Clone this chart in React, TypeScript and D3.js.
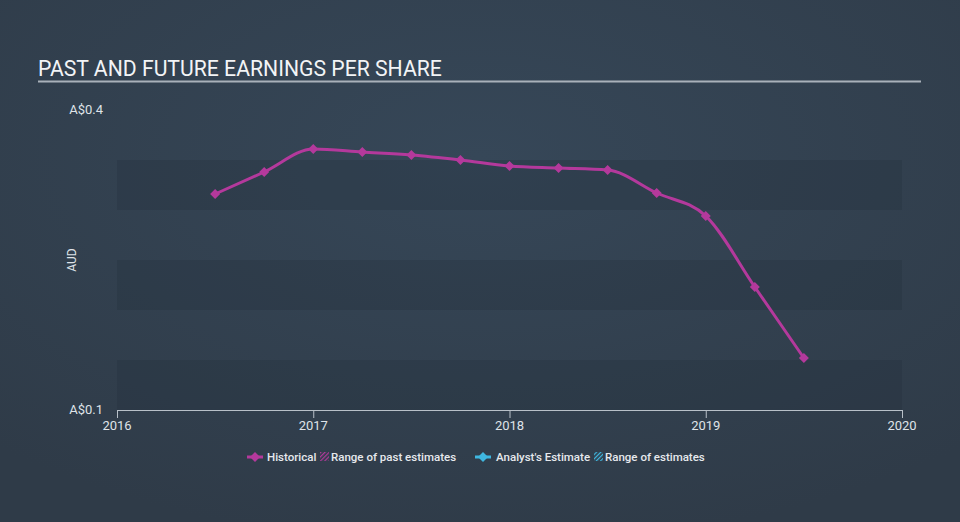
import React from "react";
import * as d3 from "d3";

const dates = [2016.5, 2016.75, 2017.0, 2017.25, 2017.5, 2017.75, 2018.0, 2018.25, 2018.5, 2018.75, 2019.0, 2019.25, 2019.5];
const eps = [0.316, 0.338, 0.361, 0.358, 0.355, 0.35, 0.344, 0.342, 0.34, 0.317, 0.294, 0.223, 0.152];
const xTicks = [2016, 2017, 2018, 2019, 2020];
const yTickLabels = [
  { v: 0.4, label: "A$0.4" },
  { v: 0.1, label: "A$0.1" },
];
const bands = [
  [0.1, 0.15],
  [0.2, 0.25],
  [0.3, 0.35],
];

const W = 960;
const H = 522;
const MAGENTA = "#b4399c";
const CYAN = "#3fb7e0";

export default function App() {
  const x = d3.scaleLinear().domain([2016, 2020]).range([117, 902]);
  const y = d3.scaleLinear().domain([0.1, 0.4]).range([410, 110]);
  const line = d3
    .line<number>()
    .x((_, i) => x(dates[i]))
    .y((d) => y(d))
    .curve(d3.curveMonotoneX);
  const diamond = (cx: number, cy: number, r: number) =>
    `M${cx},${cy - r}L${cx + r},${cy}L${cx},${cy + r}L${cx - r},${cy}Z`;

  return (
    <svg
      width={W}
      height={H}
      style={{ position: "absolute", left: 0, top: 0, display: "block" }}
      fontFamily="Roboto, sans-serif"
    >
      <defs>
        <radialGradient id="bg" cx="0.5" cy="0.3" r="0.75">
          <stop offset="0" stopColor="#364758" />
          <stop offset="1" stopColor="#2f3b48" />
        </radialGradient>
        <pattern id="hatchM" width="3" height="3" patternUnits="userSpaceOnUse" patternTransform="rotate(45)">
          <rect width="1.2" height="3" fill={MAGENTA} />
        </pattern>
        <pattern id="hatchC" width="3" height="3" patternUnits="userSpaceOnUse" patternTransform="rotate(45)">
          <rect width="1.2" height="3" fill={CYAN} />
        </pattern>
      </defs>
      <rect width={W} height={H} fill="url(#bg)" />

      {/* Title */}
      <text x={38} y={76} fill="#f2f4f6" fontSize={21.2}>
        PAST AND FUTURE EARNINGS PER SHARE
      </text>
      <line x1={38} x2={921} y1={81.5} y2={81.5} stroke="#a9b1ba" strokeWidth={2} />

      {/* bands */}
      {bands.map(([a, b], i) => (
        <rect
          key={i}
          x={x(2016)}
          width={x(2020) - x(2016)}
          y={y(b)}
          height={y(a) - y(b)}
          fill="#1f2a36"
          opacity={0.25}
        />
      ))}

      {/* y labels */}
      {yTickLabels.map((t) => (
        <text key={t.label} x={103} y={y(t.v) + 4} textAnchor="end" fill="#dfe3e8" fontSize={13}>
          {t.label}
        </text>
      ))}
      <text
        transform={`translate(76,${y(0.25)}) rotate(-90)`}
        textAnchor="middle"
        fill="#dfe3e8"
        fontSize={12}
      >
        AUD
      </text>

      {/* x axis */}
      <line x1={x(2016)} x2={x(2020)} y1={410.5} y2={410.5} stroke="#b8c0c8" strokeWidth={1} />
      {xTicks.map((t) => (
        <g key={t}>
          <line x1={x(t) + 0.5} x2={x(t) + 0.5} y1={410} y2={418} stroke="#b8c0c8" strokeWidth={1} />
          <text x={x(t)} y={430} textAnchor="middle" fill="#dfe3e8" fontSize={13}>
            {t}
          </text>
        </g>
      ))}

      {/* line */}
      <path d={line(eps) || ""} fill="none" stroke={MAGENTA} strokeWidth={3} />
      {eps.map((v, i) => (
        <path key={i} d={diamond(x(dates[i]), y(v), 5)} fill={MAGENTA} />
      ))}

      {/* legend */}
      <g fontSize={11.5} fill="#e6e9ed" fontWeight={500}>
        <line x1={247} x2={263} y1={457} y2={457} stroke={MAGENTA} strokeWidth={3} />
        <path d={diamond(255, 457, 5)} fill={MAGENTA} />
        <text x={267} y={461}>Historical</text>
        <rect x={320} y={452} width={9} height={9} fill="url(#hatchM)" />
        <text x={331} y={461}>Range of past estimates</text>

        <line x1={475} x2={491} y1={457} y2={457} stroke={CYAN} strokeWidth={3} />
        <path d={diamond(483, 457, 5)} fill={CYAN} />
        <text x={496} y={461}>Analyst's Estimate</text>
        <rect x={594} y={452} width={9} height={9} fill="url(#hatchC)" />
        <text x={605} y={461}>Range of estimates</text>
      </g>
    </svg>
  );
}
